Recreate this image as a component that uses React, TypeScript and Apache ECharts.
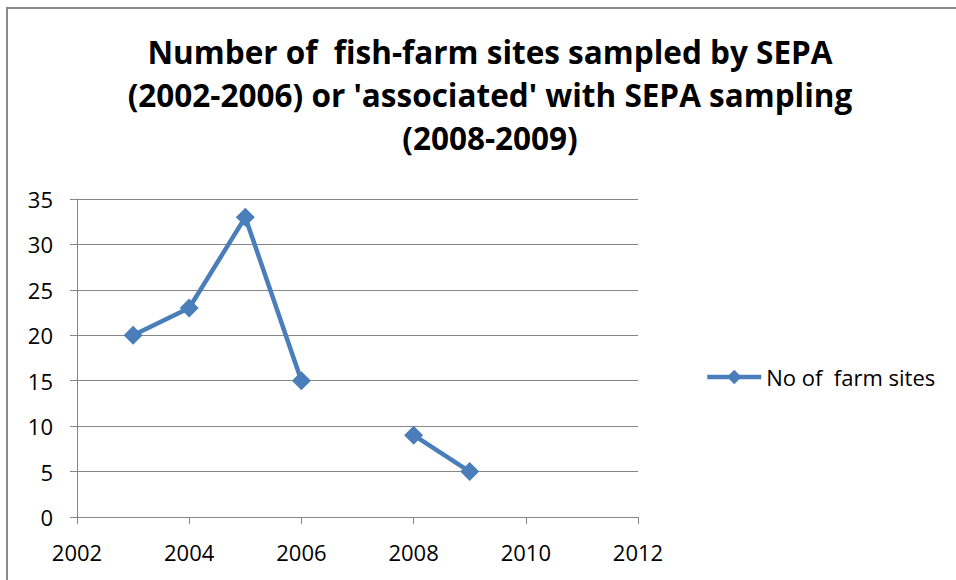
import React, { useEffect, useRef } from "react";
import * as echarts from "echarts";

const titleLines = [
  "Number of  fish-farm sites sampled by SEPA",
  "(2002-2006) or 'associated' with SEPA sampling",
  "(2008-2009)",
];
const seriesName = "No of  farm sites";
const years = [2003, 2004, 2005, 2006, 2007, 2008, 2009];
const values: (number | null)[] = [20, 23, 33, 15, null, 9, 5];
const xMin = 2002;
const xMax = 2012;
const xStep = 2;
const yMin = 0;
const yMax = 35;
const yStep = 5;

const BLUE = "#4A7EBB";
const FONT = "'Open Sans', Lato, sans-serif";

export default function App() {
  const ref = useRef<HTMLDivElement>(null);
  useEffect(() => {
    if (!ref.current) return;
    const chart = echarts.init(ref.current, undefined, { renderer: "svg" });
    chart.setOption({
      animation: false,
      backgroundColor: "#ffffff",
      title: {
        text: titleLines.join("\n"),
        left: 490,
        top: 30,
        padding: 0,
        textAlign: "center",
        textStyle: {
          fontFamily: FONT,
          fontWeight: "bold",
          fontSize: 31.5,
          lineHeight: 43,
          color: "#000000",
        },
      },
      graphic: [
        {
          type: "rect",
          shape: { x: 7, y: 8, width: 1200, height: 1200 },
          style: { fill: "none", stroke: "#8a8a8a", lineWidth: 2 },
          silent: true,
        },
      ],
      legend: {
        left: 705,
        top: 366,
        padding: 0,
        itemWidth: 54,
        itemHeight: 18,
        itemGap: 4,
        data: [seriesName],
        lineStyle: { width: 4.5 },
        textStyle: { fontFamily: FONT, fontSize: 22, color: "#000" },
      },
      grid: { left: 77, top: 199, right: 318, bottom: 63, containLabel: false },
      xAxis: {
        type: "value",
        min: xMin,
        max: xMax,
        interval: xStep,
        axisLine: { show: true, lineStyle: { color: "#868686", width: 1 } },
        axisTick: { show: true, length: 7, lineStyle: { color: "#868686" } },
        splitLine: { show: false },
        axisLabel: {
          margin: 24,
          fontFamily: FONT,
          fontSize: 22,
          color: "#000",
          formatter: (v: number) => String(v),
        },
      },
      yAxis: {
        type: "value",
        min: yMin,
        max: yMax,
        interval: yStep,
        axisLine: { show: true, lineStyle: { color: "#868686", width: 1 } },
        axisTick: { show: true, length: 7, lineStyle: { color: "#868686" } },
        splitLine: { show: true, lineStyle: { color: "#868686", width: 1 } },
        axisLabel: { margin: 24, fontFamily: FONT, fontSize: 22, color: "#000" },
      },
      series: [
        {
          name: seriesName,
          type: "line",
          data: years.map((y, i) => [y, values[i]]),
          connectNulls: false,
          symbol: "diamond",
          symbolSize: 19,
          itemStyle: { color: BLUE },
          lineStyle: { color: BLUE, width: 4.5 },
        },
      ],
    });
    return () => chart.dispose();
  }, []);
  return (
    <div
      ref={ref}
      style={{ position: "fixed", left: 0, top: 0, width: 956, height: 580 }}
    />
  );
}
